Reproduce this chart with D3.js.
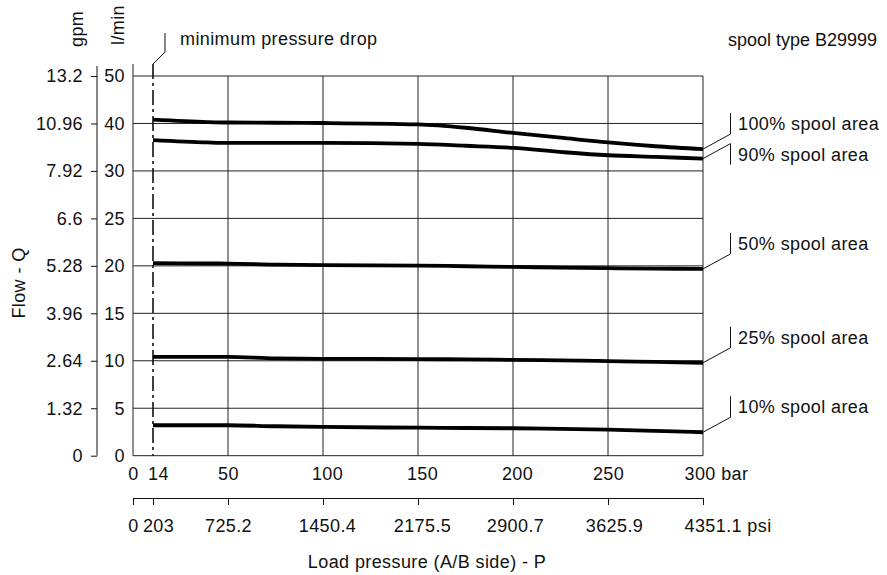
<!DOCTYPE html>
<html><head><meta charset="utf-8">
<script src="https://cdn.jsdelivr.net/npm/d3@7"></script>
<style>
body{margin:0;background:#fff;}
svg{display:block;background:#fff;}
text{font-family:"Liberation Sans",Arial,Helvetica,sans-serif;font-size:18px;fill:#111;letter-spacing:0.4px;}
</style></head><body><svg id="c" width="887" height="575"></svg>
<script>
// ---- data ----
const pressureBar = [14, 40, 50, 75, 100, 150, 175, 200, 225, 250, 275, 300];
const flow100 = [40.8, 40.3, 40.2, 40.15, 40.1, 39.8, 39.1, 38.0, 37.0, 36.0, 35.2, 34.6];
const flow90  = [36.5, 36.0, 35.9, 35.9, 35.9, 35.7, 35.3, 34.85, 34.0, 33.3, 32.95, 32.6];
const flow50  = [20.28, 20.25, 20.24, 20.12, 20.07, 20.03, 19.96, 19.89, 19.82, 19.75, 19.71, 19.68];
const flow25  = [10.42, 10.42, 10.42, 10.25, 10.21, 10.18, 10.14, 10.1, 10.04, 9.97, 9.88, 9.79];
const flow10  = [3.21, 3.21, 3.21, 3.1, 3.03, 2.95, 2.92, 2.89, 2.82, 2.74, 2.62, 2.47];
const seriesNames = ["100% spool area", "90% spool area", "50% spool area", "25% spool area", "10% spool area"];
const labelBelow = [false, true, false, false, false];
const flowTicksLmin = [0, 5, 10, 15, 20, 25, 30, 40, 50];
const flowTicksGpm = ["0", "1.32", "2.64", "3.96", "5.28", "6.6", "7.92", "10.96", "13.2"];
const barTicks = [0, 14, 50, 100, 150, 200, 250, 300];
const barTickLabels = ["0", "14", "50", "100", "150", "200", "250", "300 bar"];
const psiTickLabels = ["0", "203", "725.2", "1450.4", "2175.5", "2900.7", "3625.9", "4351.1 psi"];
const minPressureBar = 14;

// ---- layout ----
const svg = d3.select("#c");
const X0 = 133, Y0 = 455.7, YTOP = 76;
const x = d3.scaleLinear().domain([0, 14, 50, 300]).range([X0, X0 + 20, X0 + 95, X0 + 570]);
const step = (Y0 - YTOP) / (flowTicksLmin.length - 1);
const y = d3.scaleLinear().domain(flowTicksLmin).range(flowTicksLmin.map((d, i) => Y0 - i * step));
const ink = "#111";

// grid
const g = svg.append("g").attr("stroke", "#222").attr("stroke-width", 1);
g.selectAll(".h").data(flowTicksLmin.slice(1)).join("line")
  .attr("x1", x(0)).attr("x2", x(300)).attr("y1", d => y(d)).attr("y2", d => y(d));
g.selectAll(".v").data(barTicks.filter(d => d >= 50)).join("line")
  .attr("x1", d => x(d)).attr("x2", d => x(d)).attr("y1", y(0)).attr("y2", y(50));
// frame lines
g.append("line").attr("x1", x(0)).attr("x2", x(0)).attr("y1", 64).attr("y2", y(0));
g.append("line").attr("x1", x(0)).attr("x2", x(300)).attr("y1", y(0)).attr("y2", y(0));

// gpm axis
const gpmAxis = svg.append("g").attr("transform", "translate(97,0)")
  .call(d3.axisLeft(y).tickValues(flowTicksLmin).tickFormat((d, i) => flowTicksGpm[i]).tickSize(6).tickSizeOuter(0).tickPadding(8));
gpmAxis.select(".domain").remove();
gpmAxis.selectAll("line").attr("stroke", ink);
gpmAxis.append("line").attr("x1", 0).attr("x2", 0).attr("y1", 66).attr("y2", y(0)).attr("stroke", ink);
gpmAxis.selectAll("text").attr("fill", ink);
gpmAxis.attr("font-size", null).attr("font-family", null);

// l/min axis
const lAxis = svg.append("g").attr("transform", `translate(${X0},0)`)
  .call(d3.axisLeft(y).tickValues(flowTicksLmin).tickSize(0).tickPadding(8));
lAxis.select(".domain").remove();
lAxis.attr("font-size", null).attr("font-family", null);
lAxis.selectAll("text").attr("fill", ink);

// bar axis
const barAxis = svg.append("g").attr("transform", `translate(0,${Y0})`)
  .call(d3.axisBottom(x).tickValues(barTicks).tickFormat((d, i) => barTickLabels[i]).tickSize(0));
barAxis.select(".domain").remove();
barAxis.attr("font-size", null).attr("font-family", null);
barAxis.selectAll("text").attr("fill", ink).attr("y", 24).attr("dy", 0)
  .attr("dx", d => d === 14 ? 5 : (d === 100 || d === 150 || d === 200) ? 4 : 0)
  .filter(d => d === 300).attr("text-anchor", "start").attr("dx", -19);

// psi axis
const psiAxis = svg.append("g").attr("transform", "translate(0,498)")
  .call(d3.axisBottom(x).tickValues(barTicks).tickFormat((d, i) => psiTickLabels[i]).tickSize(7).tickSizeOuter(0));
psiAxis.attr("font-size", null).attr("font-family", null);
psiAxis.selectAll("line,path").attr("stroke", ink);
psiAxis.selectAll("text").attr("fill", ink).attr("y", 34).attr("dy", 0)
  .attr("dx", d => d === 14 ? 5 : (d === 100 || d === 150) ? 4 : (d === 200 ? 2 : (d === 250 ? 6 : 0)))
  .filter(d => d === 300).attr("text-anchor", "start").attr("dx", -19);

// axis titles
svg.append("text").attr("transform", "translate(83,47) rotate(-90)").text("gpm");
svg.append("text").attr("transform", "translate(124,45) rotate(-90)").text("l/min");
svg.append("text").attr("transform", "translate(25,283) rotate(-90)").attr("text-anchor", "middle").text("Flow - Q");
svg.append("text").attr("x", 427).attr("y", 568).attr("text-anchor", "middle").text("Load pressure (A/B side) - P");
svg.append("text").attr("x", 877).attr("y", 46).attr("text-anchor", "end").style("letter-spacing", "0px").text("spool type B29999");

// minimum pressure drop line
const xm = x(minPressureBar);
svg.append("line").attr("x1", xm).attr("x2", xm).attr("y1", 64).attr("y2", y(0))
  .attr("stroke", ink).attr("stroke-width", 1.6).attr("stroke-dasharray", "15,4,3,4");
svg.append("path").attr("d", `M${xm},64 L${xm + 12},52 L${xm + 12},33`).attr("fill", "none").attr("stroke", ink).attr("stroke-width", 1);
svg.append("text").attr("x", xm + 27).attr("y", 45).text("minimum pressure drop");

// curves
const allSeries = [flow100, flow90, flow50, flow25, flow10];
const line = d3.line().x(d => x(d[0])).y(d => y(d[1])).curve(d3.curveMonotoneX);
allSeries.forEach((vals, i) => {
  const pts = pressureBar.map((p, j) => [p, vals[j]]);
  svg.append("path").attr("d", line(pts)).attr("fill", "none").attr("stroke", "#000").attr("stroke-width", 3.8);
  const ex = x(300), ey = y(vals[vals.length - 1]);
  const bx = ex + 27.5, by = ey - 15;
  const top = labelBelow[i] ? by : by - 21, bot = labelBelow[i] ? by + 21 : by;
  svg.append("path").attr("d", `M${ex},${ey} L${bx},${by} M${bx},${top} L${bx},${bot}`)
    .attr("fill", "none").attr("stroke", ink).attr("stroke-width", 1);
  svg.append("text").attr("x", bx + 7.5).attr("y", (top + bot) / 2 + 6.5).text(seriesNames[i]);
});
</script></body></html>
